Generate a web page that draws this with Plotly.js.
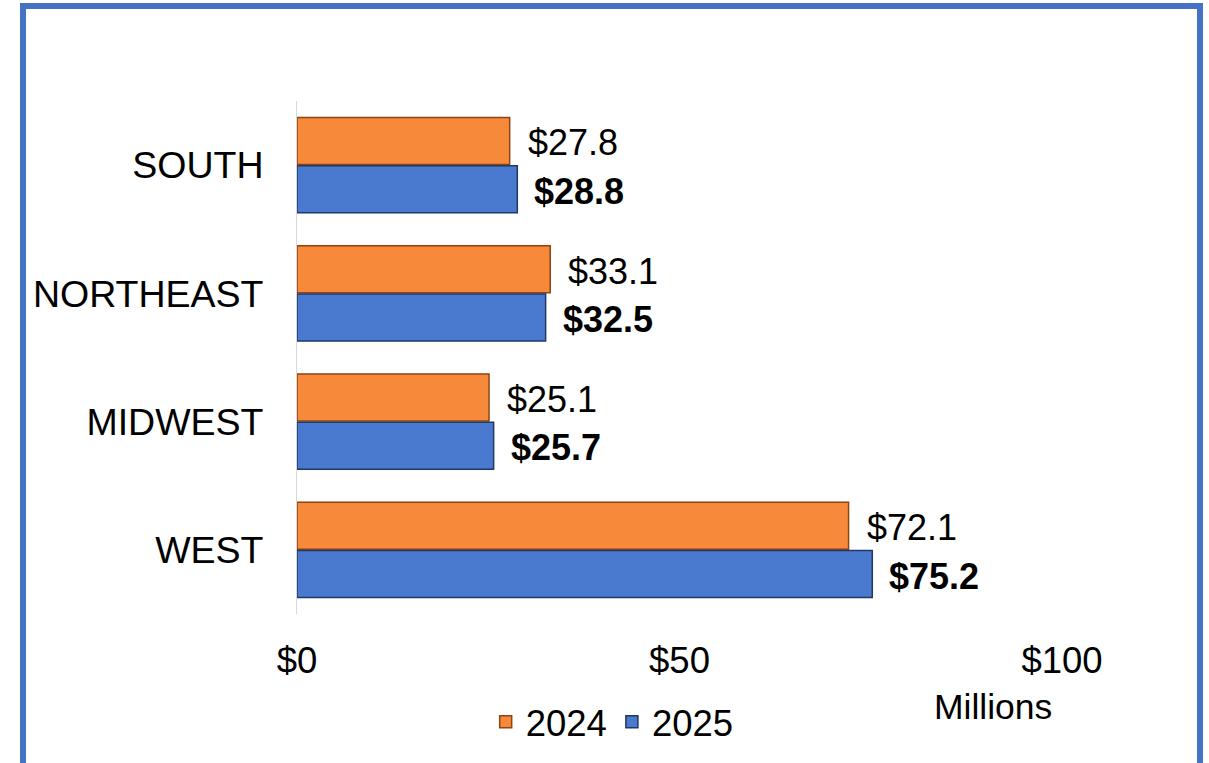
<!DOCTYPE html>
<html>
<head>
<meta charset="utf-8">
<script src="https://cdn.plot.ly/plotly-3.0.1.min.js"></script>
<style>
  html, body { margin: 0; padding: 0; background: #ffffff; overflow: hidden; }
  #frame { position: absolute; left: 20px; top: 3px; width: 1171px; height: 800px;
           border: 6px solid #4472C4; box-sizing: content-box; pointer-events: none; z-index: 2; }
  #chart { position: absolute; left: 0; top: 0; width: 1209px; height: 763px; }
</style>
</head>
<body>
<div id="chart"></div>
<div id="frame"></div>
<script>
// Data (top = SOUTH)
const regions = ["SOUTH", "NORTHEAST", "MIDWEST", "WEST"];
const values2024 = [27.8, 33.1, 25.1, 72.1];
const values2025 = [28.8, 32.5, 25.7, 75.2];
const seriesNames = ["2024", "2025"];
const tickValues = [0, 50, 100];
const tickLabels = ["$0", "$50", "$100"];
const unitLabel = "Millions";

const FONT = "Liberation Sans, Arial, sans-serif";
const FS = 36;

const traces = [
  {
    type: "bar", orientation: "h", name: seriesNames[0],
    y: regions, x: values2024,
    marker: { color: "#F68A3A", line: { color: "#8E4312", width: 1.5 } },
    hoverinfo: "skip"
  },
  {
    type: "bar", orientation: "h", name: seriesNames[1],
    y: regions, x: values2025,
    marker: { color: "#4A7AD0", line: { color: "#1F3864", width: 1.5 } },
    hoverinfo: "skip"
  }
];

const bargap = 0.245;
const half = (1 - bargap) / 4;
const annotations = [];
regions.forEach((r, i) => {
  annotations.push({
    x: values2024[i], y: i - half, xref: "x", yref: "y",
    text: "$" + values2024[i].toFixed(1), showarrow: false,
    xanchor: "left", yanchor: "middle", xshift: 16, yshift: -2,
    font: { family: FONT, size: FS, color: "#000000" }
  });
  annotations.push({
    x: values2025[i], y: i + half, xref: "x", yref: "y",
    text: "<b>$" + values2025[i].toFixed(1) + "</b>", showarrow: false,
    xanchor: "left", yanchor: "middle", xshift: 15, yshift: -2,
    font: { family: FONT, size: FS, color: "#000000" }
  });
});
annotations.push({
  x: 0.91, y: -0.181, xref: "paper", yref: "paper",
  text: unitLabel, showarrow: false, xanchor: "center", yanchor: "middle",
  font: { family: FONT, size: 35.5, color: "#000000" }
});

const layout = {
  width: 1209, height: 763,
  margin: { l: 297, r: 147, t: 101, b: 148, pad: 0 },
  paper_bgcolor: "#ffffff", plot_bgcolor: "#ffffff",
  barmode: "group", bargap: bargap, bargroupgap: 0.03,
  font: { family: FONT, size: FS, color: "#000000" },
  xaxis: {
    range: [0, 100], tickvals: tickValues, ticktext: tickLabels,
    showgrid: false, zeroline: false, showline: false, ticks: "",
    ticklabelstandoff: 21,
    tickfont: { family: FONT, size: 36.5, color: "#000000" }
  },
  yaxis: {
    type: "category", autorange: "reversed",
    showgrid: false, zeroline: false, showline: true, linecolor: "#d9d9d9", linewidth: 1,
    ticks: "", ticklabelstandoff: 25,
    tickfont: { family: FONT, size: 37.5, color: "#000000" }
  },
  showlegend: true,
  legend: {
    orientation: "h", x: 0.412, y: -0.208, xanchor: "center", yanchor: "middle",
    font: { family: FONT, size: 36.5, color: "#000000" },
    itemwidth: 30, bgcolor: "rgba(0,0,0,0)"
  },
  annotations: annotations
};

Plotly.newPlot("chart", traces, layout, { displayModeBar: false, staticPlot: true });
</script>
</body>
</html>
